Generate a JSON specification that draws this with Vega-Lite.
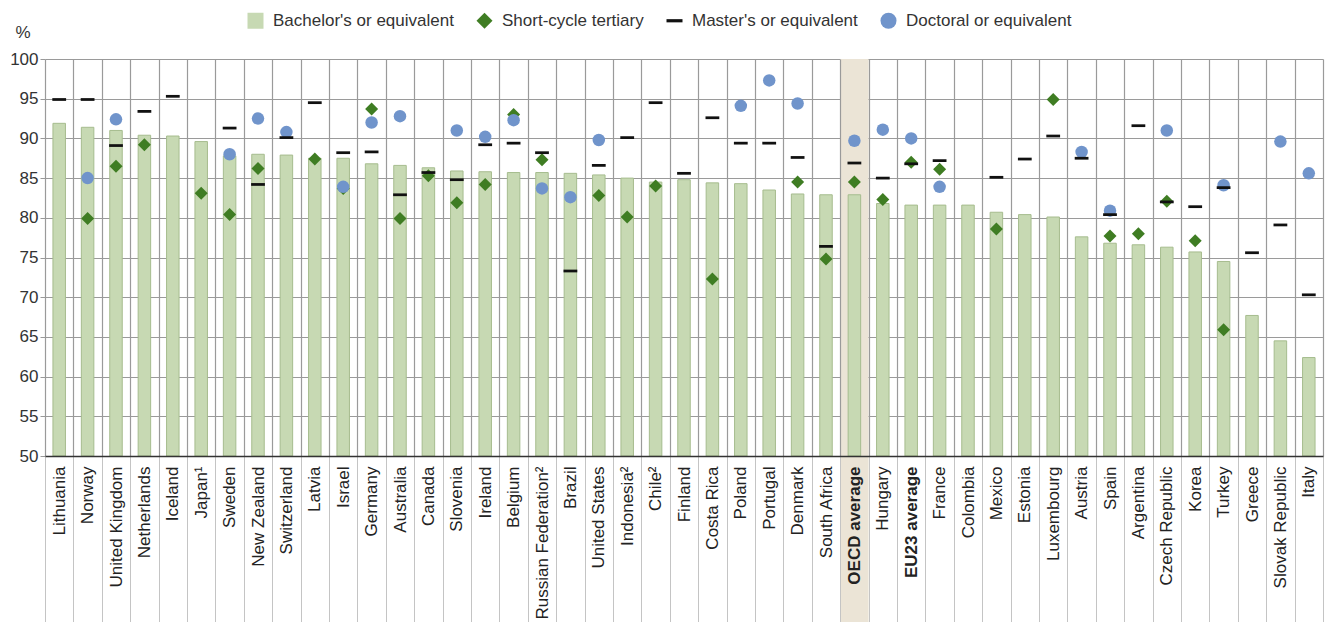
{
  "$schema": "https://vega.github.io/schema/vega-lite/v6.json",
  "width": 1278,
  "height": 397,
  "autosize": "none",
  "padding": {"left": 45, "top": 59, "right": 2, "bottom": 166},
  "background": "white",
  "config": {
    "font": "Liberation Sans",
    "view": {"stroke": null},
    "legend": {"labelLimit": 400},
    "axisY": {
      "titleAngle": 0,
      "titleAlign": "left",
      "titleBaseline": "alphabetic",
      "titleX": -30,
      "titleY": -22,
      "titleFontSize": 17,
      "titleFontWeight": "normal",
      "titleColor": "#333",
      "labelFontSize": 17,
      "labelColor": "#333",
      "labelPadding": 2,
      "tickSize": 5,
      "tickColor": "#999",
      "domain": false,
      "gridColor": "#9a9a9a",
      "gridWidth": 1.2
    }
  },
  "data": {
    "values": [
      {"country": "Lithuania", "level": "Bachelor's or equivalent", "value": 91.9},
      {"country": "Norway", "level": "Bachelor's or equivalent", "value": 91.4},
      {"country": "United Kingdom", "level": "Bachelor's or equivalent", "value": 91.0},
      {"country": "Netherlands", "level": "Bachelor's or equivalent", "value": 90.4},
      {"country": "Iceland", "level": "Bachelor's or equivalent", "value": 90.3},
      {"country": "Japan¹", "level": "Bachelor's or equivalent", "value": 89.6},
      {"country": "Sweden", "level": "Bachelor's or equivalent", "value": 87.8},
      {"country": "New Zealand", "level": "Bachelor's or equivalent", "value": 88.0},
      {"country": "Switzerland", "level": "Bachelor's or equivalent", "value": 87.9},
      {"country": "Latvia", "level": "Bachelor's or equivalent", "value": 87.5},
      {"country": "Israel", "level": "Bachelor's or equivalent", "value": 87.5},
      {"country": "Germany", "level": "Bachelor's or equivalent", "value": 86.8},
      {"country": "Australia", "level": "Bachelor's or equivalent", "value": 86.6},
      {"country": "Canada", "level": "Bachelor's or equivalent", "value": 86.3},
      {"country": "Slovenia", "level": "Bachelor's or equivalent", "value": 85.9},
      {"country": "Ireland", "level": "Bachelor's or equivalent", "value": 85.8},
      {"country": "Belgium", "level": "Bachelor's or equivalent", "value": 85.7},
      {"country": "Russian Federation²", "level": "Bachelor's or equivalent", "value": 85.7},
      {"country": "Brazil", "level": "Bachelor's or equivalent", "value": 85.6},
      {"country": "United States", "level": "Bachelor's or equivalent", "value": 85.4},
      {"country": "Indonesia²", "level": "Bachelor's or equivalent", "value": 85.0},
      {"country": "Chile²", "level": "Bachelor's or equivalent", "value": 84.5},
      {"country": "Finland", "level": "Bachelor's or equivalent", "value": 84.8},
      {"country": "Costa Rica", "level": "Bachelor's or equivalent", "value": 84.4},
      {"country": "Poland", "level": "Bachelor's or equivalent", "value": 84.3},
      {"country": "Portugal", "level": "Bachelor's or equivalent", "value": 83.5},
      {"country": "Denmark", "level": "Bachelor's or equivalent", "value": 83.0},
      {"country": "South Africa", "level": "Bachelor's or equivalent", "value": 82.9},
      {"country": "OECD average", "level": "Bachelor's or equivalent", "value": 82.9},
      {"country": "Hungary", "level": "Bachelor's or equivalent", "value": 81.8},
      {"country": "EU23 average", "level": "Bachelor's or equivalent", "value": 81.6},
      {"country": "France", "level": "Bachelor's or equivalent", "value": 81.6},
      {"country": "Colombia", "level": "Bachelor's or equivalent", "value": 81.6},
      {"country": "Mexico", "level": "Bachelor's or equivalent", "value": 80.7},
      {"country": "Estonia", "level": "Bachelor's or equivalent", "value": 80.4},
      {"country": "Luxembourg", "level": "Bachelor's or equivalent", "value": 80.1},
      {"country": "Austria", "level": "Bachelor's or equivalent", "value": 77.6},
      {"country": "Spain", "level": "Bachelor's or equivalent", "value": 76.8},
      {"country": "Argentina", "level": "Bachelor's or equivalent", "value": 76.6},
      {"country": "Czech Republic", "level": "Bachelor's or equivalent", "value": 76.3},
      {"country": "Korea", "level": "Bachelor's or equivalent", "value": 75.7},
      {"country": "Turkey", "level": "Bachelor's or equivalent", "value": 74.5},
      {"country": "Greece", "level": "Bachelor's or equivalent", "value": 67.7},
      {"country": "Slovak Republic", "level": "Bachelor's or equivalent", "value": 64.5},
      {"country": "Italy", "level": "Bachelor's or equivalent", "value": 62.4},

      {"country": "Norway", "level": "Short-cycle tertiary", "value": 79.9},
      {"country": "United Kingdom", "level": "Short-cycle tertiary", "value": 86.5},
      {"country": "Netherlands", "level": "Short-cycle tertiary", "value": 89.2},
      {"country": "Japan¹", "level": "Short-cycle tertiary", "value": 83.1},
      {"country": "Sweden", "level": "Short-cycle tertiary", "value": 80.4},
      {"country": "New Zealand", "level": "Short-cycle tertiary", "value": 86.2},
      {"country": "Latvia", "level": "Short-cycle tertiary", "value": 87.4},
      {"country": "Israel", "level": "Short-cycle tertiary", "value": 83.7},
      {"country": "Germany", "level": "Short-cycle tertiary", "value": 93.7},
      {"country": "Australia", "level": "Short-cycle tertiary", "value": 79.9},
      {"country": "Canada", "level": "Short-cycle tertiary", "value": 85.3},
      {"country": "Slovenia", "level": "Short-cycle tertiary", "value": 81.9},
      {"country": "Ireland", "level": "Short-cycle tertiary", "value": 84.2},
      {"country": "Belgium", "level": "Short-cycle tertiary", "value": 93.0},
      {"country": "Russian Federation²", "level": "Short-cycle tertiary", "value": 87.3},
      {"country": "United States", "level": "Short-cycle tertiary", "value": 82.8},
      {"country": "Indonesia²", "level": "Short-cycle tertiary", "value": 80.1},
      {"country": "Chile²", "level": "Short-cycle tertiary", "value": 84.0},
      {"country": "Costa Rica", "level": "Short-cycle tertiary", "value": 72.3},
      {"country": "Denmark", "level": "Short-cycle tertiary", "value": 84.5},
      {"country": "South Africa", "level": "Short-cycle tertiary", "value": 74.8},
      {"country": "OECD average", "level": "Short-cycle tertiary", "value": 84.5},
      {"country": "Hungary", "level": "Short-cycle tertiary", "value": 82.3},
      {"country": "EU23 average", "level": "Short-cycle tertiary", "value": 87.0},
      {"country": "France", "level": "Short-cycle tertiary", "value": 86.1},
      {"country": "Mexico", "level": "Short-cycle tertiary", "value": 78.6},
      {"country": "Luxembourg", "level": "Short-cycle tertiary", "value": 94.9},
      {"country": "Spain", "level": "Short-cycle tertiary", "value": 77.7},
      {"country": "Argentina", "level": "Short-cycle tertiary", "value": 78.0},
      {"country": "Czech Republic", "level": "Short-cycle tertiary", "value": 82.1},
      {"country": "Korea", "level": "Short-cycle tertiary", "value": 77.1},
      {"country": "Turkey", "level": "Short-cycle tertiary", "value": 65.9},

      {"country": "Lithuania", "level": "Master's or equivalent", "value": 94.9},
      {"country": "Norway", "level": "Master's or equivalent", "value": 94.9},
      {"country": "United Kingdom", "level": "Master's or equivalent", "value": 89.1},
      {"country": "Netherlands", "level": "Master's or equivalent", "value": 93.4},
      {"country": "Iceland", "level": "Master's or equivalent", "value": 95.3},
      {"country": "Sweden", "level": "Master's or equivalent", "value": 91.3},
      {"country": "New Zealand", "level": "Master's or equivalent", "value": 84.2},
      {"country": "Switzerland", "level": "Master's or equivalent", "value": 90.1},
      {"country": "Latvia", "level": "Master's or equivalent", "value": 94.5},
      {"country": "Israel", "level": "Master's or equivalent", "value": 88.2},
      {"country": "Germany", "level": "Master's or equivalent", "value": 88.3},
      {"country": "Australia", "level": "Master's or equivalent", "value": 82.9},
      {"country": "Canada", "level": "Master's or equivalent", "value": 85.7},
      {"country": "Slovenia", "level": "Master's or equivalent", "value": 84.8},
      {"country": "Ireland", "level": "Master's or equivalent", "value": 89.2},
      {"country": "Belgium", "level": "Master's or equivalent", "value": 89.4},
      {"country": "Russian Federation²", "level": "Master's or equivalent", "value": 88.2},
      {"country": "Brazil", "level": "Master's or equivalent", "value": 73.3},
      {"country": "United States", "level": "Master's or equivalent", "value": 86.6},
      {"country": "Indonesia²", "level": "Master's or equivalent", "value": 90.1},
      {"country": "Chile²", "level": "Master's or equivalent", "value": 94.5},
      {"country": "Finland", "level": "Master's or equivalent", "value": 85.6},
      {"country": "Costa Rica", "level": "Master's or equivalent", "value": 92.6},
      {"country": "Poland", "level": "Master's or equivalent", "value": 89.4},
      {"country": "Portugal", "level": "Master's or equivalent", "value": 89.4},
      {"country": "Denmark", "level": "Master's or equivalent", "value": 87.6},
      {"country": "South Africa", "level": "Master's or equivalent", "value": 76.4},
      {"country": "OECD average", "level": "Master's or equivalent", "value": 86.9},
      {"country": "Hungary", "level": "Master's or equivalent", "value": 85.0},
      {"country": "EU23 average", "level": "Master's or equivalent", "value": 86.8},
      {"country": "France", "level": "Master's or equivalent", "value": 87.2},
      {"country": "Mexico", "level": "Master's or equivalent", "value": 85.1},
      {"country": "Estonia", "level": "Master's or equivalent", "value": 87.4},
      {"country": "Luxembourg", "level": "Master's or equivalent", "value": 90.3},
      {"country": "Austria", "level": "Master's or equivalent", "value": 87.5},
      {"country": "Spain", "level": "Master's or equivalent", "value": 80.4},
      {"country": "Argentina", "level": "Master's or equivalent", "value": 91.6},
      {"country": "Czech Republic", "level": "Master's or equivalent", "value": 82.0},
      {"country": "Korea", "level": "Master's or equivalent", "value": 81.4},
      {"country": "Turkey", "level": "Master's or equivalent", "value": 83.8},
      {"country": "Greece", "level": "Master's or equivalent", "value": 75.6},
      {"country": "Slovak Republic", "level": "Master's or equivalent", "value": 79.1},
      {"country": "Italy", "level": "Master's or equivalent", "value": 70.3},

      {"country": "Norway", "level": "Doctoral or equivalent", "value": 85.0},
      {"country": "United Kingdom", "level": "Doctoral or equivalent", "value": 92.4},
      {"country": "Sweden", "level": "Doctoral or equivalent", "value": 88.0},
      {"country": "New Zealand", "level": "Doctoral or equivalent", "value": 92.5},
      {"country": "Switzerland", "level": "Doctoral or equivalent", "value": 90.8},
      {"country": "Israel", "level": "Doctoral or equivalent", "value": 83.9},
      {"country": "Germany", "level": "Doctoral or equivalent", "value": 92.0},
      {"country": "Australia", "level": "Doctoral or equivalent", "value": 92.8},
      {"country": "Slovenia", "level": "Doctoral or equivalent", "value": 91.0},
      {"country": "Ireland", "level": "Doctoral or equivalent", "value": 90.2},
      {"country": "Belgium", "level": "Doctoral or equivalent", "value": 92.3},
      {"country": "Russian Federation²", "level": "Doctoral or equivalent", "value": 83.7},
      {"country": "Brazil", "level": "Doctoral or equivalent", "value": 82.6},
      {"country": "United States", "level": "Doctoral or equivalent", "value": 89.8},
      {"country": "Poland", "level": "Doctoral or equivalent", "value": 94.1},
      {"country": "Portugal", "level": "Doctoral or equivalent", "value": 97.3},
      {"country": "Denmark", "level": "Doctoral or equivalent", "value": 94.4},
      {"country": "OECD average", "level": "Doctoral or equivalent", "value": 89.7},
      {"country": "Hungary", "level": "Doctoral or equivalent", "value": 91.1},
      {"country": "EU23 average", "level": "Doctoral or equivalent", "value": 90.0},
      {"country": "France", "level": "Doctoral or equivalent", "value": 83.9},
      {"country": "Austria", "level": "Doctoral or equivalent", "value": 88.3},
      {"country": "Spain", "level": "Doctoral or equivalent", "value": 80.9},
      {"country": "Czech Republic", "level": "Doctoral or equivalent", "value": 91.0},
      {"country": "Turkey", "level": "Doctoral or equivalent", "value": 84.1},
      {"country": "Slovak Republic", "level": "Doctoral or equivalent", "value": 89.6},
      {"country": "Italy", "level": "Doctoral or equivalent", "value": 85.6}
    ]
  },
  "encoding": {
    "x": {
      "field": "country",
      "type": "nominal",
      "title": null,
      "scale": {
        "domain": ["Lithuania", "Norway", "United Kingdom", "Netherlands", "Iceland", "Japan¹", "Sweden", "New Zealand", "Switzerland", "Latvia", "Israel", "Germany", "Australia", "Canada", "Slovenia", "Ireland", "Belgium", "Russian Federation²", "Brazil", "United States", "Indonesia²", "Chile²", "Finland", "Costa Rica", "Poland", "Portugal", "Denmark", "South Africa", "OECD average", "Hungary", "EU23 average", "France", "Colombia", "Mexico", "Estonia", "Luxembourg", "Austria", "Spain", "Argentina", "Czech Republic", "Korea", "Turkey", "Greece", "Slovak Republic", "Italy"],
        "paddingInner": 0,
        "paddingOuter": 0
      },
      "axis": {
        "labelAngle": -90,
        "labelAlign": "right",
        "labelBaseline": "middle",
        "labelFontSize": 17,
        "labelColor": "#222",
        "labelPadding": -156,
        "labelLimit": 400,
        "labelOverlap": false,
        "labelFontWeight": {"condition": {"test": "datum.value === 'OECD average' || datum.value === 'EU23 average'", "value": "bold"}, "value": "normal"},
        "tickBand": "extent",
        "tickSize": 166,
        "tickColor": "#c4c4c4",
        "tickWidth": 1,
        "grid": true,
        "gridColor": "#9a9a9a",
        "gridWidth": 1.2,
        "domainColor": "#333",
        "domainWidth": 1.5,
        "zindex": 1
      }
    },
    "y": {
      "field": "value",
      "type": "quantitative",
      "title": "%",
      "scale": {"domain": [50, 100], "nice": false, "zero": false},
      "axis": {"values": [50, 55, 60, 65, 70, 75, 80, 85, 90, 95, 100]}
    }
  },
  "layer": [
    {
      "transform": [{"filter": {"and": [{"field": "country", "equal": "OECD average"}, {"field": "level", "equal": "Bachelor's or equivalent"}]}}],
      "mark": {"type": "bar", "color": "#ebe4d6", "width": {"band": 1}},
      "encoding": {
        "y": {"datum": 100, "type": "quantitative", "title": "%"},
        "y2": {"datum": 29}
      }
    },
    {
      "transform": [{"filter": {"field": "level", "equal": "Bachelor's or equivalent"}}],
      "mark": {"type": "bar", "width": {"band": 0.44}, "stroke": "#a6bc8e", "strokeWidth": 1},
      "encoding": {
        "y2": {"datum": 50},
        "color": {
          "field": "level",
          "type": "nominal",
          "scale": {"domain": ["Bachelor's or equivalent", "Short-cycle tertiary", "Master's or equivalent", "Doctoral or equivalent"], "range": ["#c7d9b3", "#3f7d23", "#111111", "#7094cb"]},
          "legend": {"orient": "none", "legendX": 202, "legendY": -47, "direction": "horizontal", "columns": 4, "title": null, "symbolSize": 256, "labelFontSize": 17, "labelColor": "#333", "labelOffset": 9, "labelLimit": 400, "columnPadding": 22, "symbolStrokeWidth": 0, "padding": 0}
        }
      }
    },
    {
      "transform": [{"filter": {"field": "level", "equal": "Short-cycle tertiary"}}],
      "mark": {"type": "point", "filled": true, "size": 169, "opacity": 1},
      "encoding": {
        "color": {
          "field": "level",
          "type": "nominal",
          "scale": {"domain": ["Bachelor's or equivalent", "Short-cycle tertiary", "Master's or equivalent", "Doctoral or equivalent"], "range": ["#c7d9b3", "#3f7d23", "#111111", "#7094cb"]},
          "legend": {"orient": "none", "legendX": 202, "legendY": -47, "direction": "horizontal", "columns": 4, "title": null, "symbolSize": 256, "labelFontSize": 17, "labelColor": "#333", "labelOffset": 9, "labelLimit": 400, "columnPadding": 22, "symbolStrokeWidth": 0, "padding": 0}
        },
        "shape": {
          "field": "level",
          "type": "nominal",
          "scale": {"domain": ["Bachelor's or equivalent", "Short-cycle tertiary", "Master's or equivalent", "Doctoral or equivalent"], "range": ["square", "diamond", "M-1,-0.2H1V0.2H-1Z", "circle"]},
          "legend": {"orient": "none", "legendX": 202, "legendY": -47, "direction": "horizontal", "columns": 4, "title": null, "symbolSize": 256, "labelFontSize": 17, "labelColor": "#333", "labelOffset": 9, "labelLimit": 400, "columnPadding": 22, "symbolStrokeWidth": 0, "padding": 0}
        }
      }
    },
    {
      "transform": [{"filter": {"field": "level", "equal": "Doctoral or equivalent"}}],
      "mark": {"type": "point", "filled": true, "size": 156, "opacity": 1},
      "encoding": {
        "color": {
          "field": "level",
          "type": "nominal",
          "scale": {"domain": ["Bachelor's or equivalent", "Short-cycle tertiary", "Master's or equivalent", "Doctoral or equivalent"], "range": ["#c7d9b3", "#3f7d23", "#111111", "#7094cb"]},
          "legend": {"orient": "none", "legendX": 202, "legendY": -47, "direction": "horizontal", "columns": 4, "title": null, "symbolSize": 256, "labelFontSize": 17, "labelColor": "#333", "labelOffset": 9, "labelLimit": 400, "columnPadding": 22, "symbolStrokeWidth": 0, "padding": 0}
        },
        "shape": {
          "field": "level",
          "type": "nominal",
          "scale": {"domain": ["Bachelor's or equivalent", "Short-cycle tertiary", "Master's or equivalent", "Doctoral or equivalent"], "range": ["square", "diamond", "M-1,-0.2H1V0.2H-1Z", "circle"]},
          "legend": {"orient": "none", "legendX": 202, "legendY": -47, "direction": "horizontal", "columns": 4, "title": null, "symbolSize": 256, "labelFontSize": 17, "labelColor": "#333", "labelOffset": 9, "labelLimit": 400, "columnPadding": 22, "symbolStrokeWidth": 0, "padding": 0}
        }
      }
    },
    {
      "transform": [{"filter": {"field": "level", "equal": "Master's or equivalent"}}],
      "mark": {"type": "point", "filled": true, "size": 190, "opacity": 1},
      "encoding": {
        "color": {
          "field": "level",
          "type": "nominal",
          "scale": {"domain": ["Bachelor's or equivalent", "Short-cycle tertiary", "Master's or equivalent", "Doctoral or equivalent"], "range": ["#c7d9b3", "#3f7d23", "#111111", "#7094cb"]},
          "legend": {"orient": "none", "legendX": 202, "legendY": -47, "direction": "horizontal", "columns": 4, "title": null, "symbolSize": 256, "labelFontSize": 17, "labelColor": "#333", "labelOffset": 9, "labelLimit": 400, "columnPadding": 22, "symbolStrokeWidth": 0, "padding": 0}
        },
        "shape": {
          "field": "level",
          "type": "nominal",
          "scale": {"domain": ["Bachelor's or equivalent", "Short-cycle tertiary", "Master's or equivalent", "Doctoral or equivalent"], "range": ["square", "diamond", "M-1,-0.2H1V0.2H-1Z", "circle"]},
          "legend": {"orient": "none", "legendX": 202, "legendY": -47, "direction": "horizontal", "columns": 4, "title": null, "symbolSize": 256, "labelFontSize": 17, "labelColor": "#333", "labelOffset": 9, "labelLimit": 400, "columnPadding": 22, "symbolStrokeWidth": 0, "padding": 0}
        }
      }
    }
  ]
}
